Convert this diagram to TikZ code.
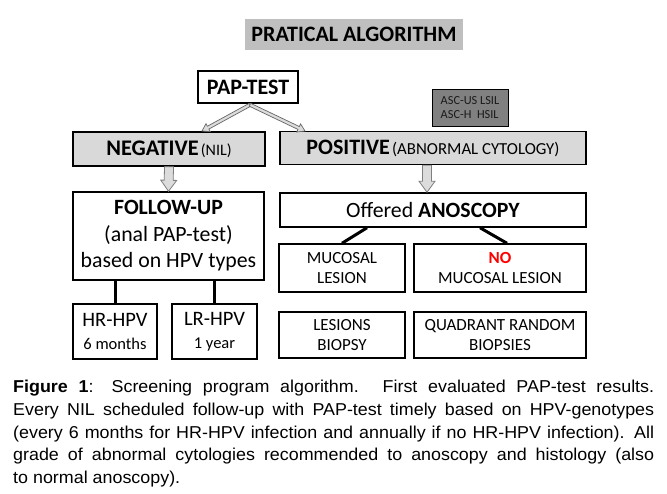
\documentclass[tikz,border=0pt]{standalone}
\usepackage{fontspec}
\setmainfont{Carlito}
\newfontfamily\capfont[FakeStretch=1.04]{Liberation Sans}
\usetikzlibrary{calc}
\definecolor{titlegray}{HTML}{BFBFBF}
\definecolor{boxgray}{HTML}{D9D9D9}
\definecolor{ascgray}{HTML}{808080}
\definecolor{arrfill}{HTML}{DCDCDC}
\definecolor{arrline}{HTML}{7F7F7F}
\definecolor{nored}{HTML}{FF0000}
% #1 style, #2 from, #3 to, #4 half shaft, #5 half head, #6 head length
\newcommand{\hollowarr}[6]{%
  \draw[#1] ($(#2)!#4!90:(#3)$)
   -- ($($(#3)!#6!(#2)$)!#4!-90:(#2)$)
   -- ($($(#3)!#6!(#2)$)!#5!-90:(#2)$)
   -- (#3)
   -- ($($(#3)!#6!(#2)$)!#5!90:(#2)$)
   -- ($($(#3)!#6!(#2)$)!#4!90:(#2)$)
   -- ($(#2)!#4!-90:(#3)$) -- cycle;}
\begin{document}
\begin{tikzpicture}[x=1pt,y=-1pt,
  box/.style={draw=black, line width=1.5pt, inner sep=0pt, align=center, text=black},
  blockarr/.style={draw=arrline, fill=arrfill, line width=0.8pt, line join=miter},
  thinarr/.style={draw=arrline!80!black, fill=arrfill, line width=0.7pt, line join=miter},
  link/.style={draw=black, line width=3pt},
  big/.style={font=\fontsize{21.8}{26.5}\selectfont},
  mid/.style={font=\fontsize{17}{20}\selectfont},
  hpv/.style={font=\fontsize{20.5}{23}\selectfont}]
\fill[white] (0,0) rectangle (667,493);
\useasboundingbox (0,0) rectangle (667,493);

\node[box, draw=none, fill=titlegray, minimum width=218pt, minimum height=31pt,
  font=\fontsize{22}{26}\selectfont\bfseries] (title) at (354,34.5) {PRATICAL ALGORITHM};
\node[box, minimum width=100pt, minimum height=32pt, font=\fontsize{22}{26}\selectfont\bfseries] (pap) at (248,87) {PAP-TEST};
\node[box, fill=boxgray, minimum width=192pt, minimum height=34pt] (neg) at (169,149)
  {{\fontsize{22.3}{26}\selectfont\bfseries NEGATIVE} {\fontsize{16}{19}\selectfont(NIL)}};
\node[box, fill=boxgray, minimum width=306pt, minimum height=33pt] (pos) at (433,148)
  {{\fontsize{22}{26}\selectfont\bfseries POSITIVE} {\fontsize{16.8}{19}\selectfont(ABNORMAL CYTOLOGY)}};
\node[box, fill=ascgray, line width=1pt, minimum width=76pt, minimum height=37pt, align=left,
  font=\fontsize{12.3}{13.5}\selectfont, text=black!90] (asc) at (470,107.5) {ASC-US LSIL\\ASC-H\ \ HSIL};
\node[box, big, minimum width=191pt, minimum height=88pt] (fu) at (168.5,236)
  {\textbf{FOLLOW-UP}\\(anal PAP-test)\\based on HPV types};
\node[box, big, minimum width=306pt, minimum height=34pt] (ano) at (433,210) {Offered \textbf{ANOSCOPY}};
\node[box, hpv, minimum width=84pt, minimum height=55pt] (hr) at (115,331.5)
  {HR-HPV\\{\fontsize{16.5}{23}\selectfont 6 months}};
\node[box, hpv, minimum width=85pt, minimum height=55pt] (lr) at (214.5,331.5)
  {LR-HPV\\{\fontsize{16.5}{23}\selectfont 1 year}};
\node[box, mid, minimum width=126pt, minimum height=48pt] (ml) at (342,268) {MUCOSAL\\LESION};
\node[box, mid, minimum width=172pt, minimum height=48pt] (nml) at (500,268)
  {\textcolor{nored}{\textbf{NO}}\\MUCOSAL LESION};
\node[box, mid, minimum width=126pt, minimum height=46pt] (lb) at (342,335) {LESIONS\\BIOPSY};
\node[box, mid, minimum width=172pt, minimum height=46pt] (qrb) at (500,335) {QUADRANT RANDOM\\BIOPSIES};

% connectors
\coordinate (papout) at ($(pap.south)+(2,1)$);
\coordinate (negin) at (202,131);
\coordinate (posin) at (305,131);
\hollowarr{thinarr}{papout}{negin}{1.6pt}{4.5pt}{7pt}
\hollowarr{thinarr}{papout}{posin}{1.6pt}{4.5pt}{7pt}
\hollowarr{blockarr}{neg.south}{fu.north}{4.5pt}{8pt}{11pt}
\coordinate (posout) at ($(pos.south)+(-6,0)$);
\coordinate (anoin) at ($(ano.north)+(-6,0)$);
\hollowarr{blockarr}{posout}{anoin}{4.5pt}{8pt}{11pt}

\draw[link] (hr.north) -- (hr.north |- fu.south);
\draw[link] (lr.north) -- (lr.north |- fu.south);
\coordinate (anol) at ($(ano.south)+(-66,0)$);
\coordinate (anor) at ($(ano.south)+(47,0)$);
\coordinate (nmlin) at ($(nml.north)+(7,0)$);
\draw[link] (anol) -- (ml.north);
\draw[link] (anor) -- (nmlin);

% caption
\node[anchor=north west, inner sep=0pt, text width=641pt, align=justify,
  font=\capfont\fontsize{17.2}{22.75}\selectfont] (cap) at (13,380)
{\textbf{Figure 1}: Screening program algorithm. First evaluated PAP-test results.\linebreak
Every NIL scheduled follow-up with PAP-test timely based on HPV-genotypes\linebreak
(every 6 months for HR-HPV infection and annually if no HR-HPV infection). All\linebreak
grade of abnormal cytologies recommended to anoscopy and histology (also\linebreak
to normal anoscopy).};
\end{tikzpicture}
\end{document}
